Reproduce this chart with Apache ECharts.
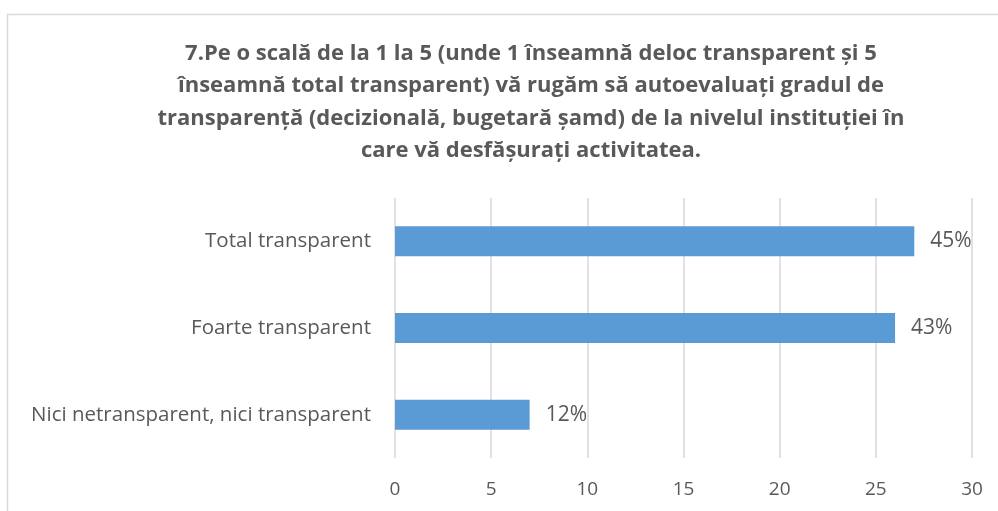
<!DOCTYPE html>
<html>
<head>
<meta charset="utf-8">
<script src="https://cdn.jsdelivr.net/npm/echarts@6/dist/echarts.min.js"></script>
<style>
  html, body { margin: 0; padding: 0; background: #fff; }
  #chart { width: 998px; height: 511px; }
</style>
</head>
<body>
<div id="chart"></div>
<script>
// categories, bottom to top as drawn
const categories = ["Nici netransparent, nici transparent", "Foarte transparent", "Total transparent"];
const counts = [7, 26, 27];
const xTicks = { min: 0, max: 30, interval: 5 };
const titleText =
  "7.Pe o scală de la 1 la 5 (unde 1 înseamnă deloc transparent și 5\n" +
  "înseamnă total transparent) vă rugăm să autoevaluați gradul de\n" +
  "transparență (decizională, bugetară șamd) de la nivelul instituției în\n" +
  "care vă desfășurați activitatea.";

const total = counts.reduce((a, b) => a + b, 0);
const font = "Open Sans";
const textColor = "#595959";

const chart = echarts.init(document.getElementById("chart"));
chart.setOption({
  animation: false,
  textStyle: { fontFamily: font },
  graphic: [
    {
      type: "rect",
      shape: { x: 7.5, y: 14.5, width: 1100, height: 600 },
      style: { fill: "none", stroke: "#d9d9d9", lineWidth: 1.5 },
      silent: true,
    },
  ],
  title: {
    text: titleText,
    left: 531,
    top: 37,
    padding: 0,
    textAlign: "center",
    textStyle: {
      fontFamily: font,
      fontWeight: "bold",
      fontSize: 22,
      lineHeight: 32.5,
      color: textColor,
    },
  },
  grid: { left: 395, right: 26, top: 198, bottom: 53 },
  xAxis: {
    type: "value",
    min: xTicks.min,
    max: xTicks.max,
    interval: xTicks.interval,
    axisLine: { show: false },
    axisTick: { show: false },
    axisLabel: { color: textColor, fontSize: 19, margin: 22, fontFamily: font },
    splitLine: { lineStyle: { color: "#d9d9d9", width: 1.5 } },
  },
  yAxis: {
    type: "category",
    data: categories,
    axisLine: { show: false },
    axisTick: { show: false },
    axisLabel: { color: textColor, fontSize: 20.5, margin: 24, fontFamily: font },
  },
  series: [
    {
      type: "bar",
      data: counts,
      barWidth: 30,
      itemStyle: { color: "#5b9bd5" },
      label: {
        show: true,
        position: "right",
        distance: 16,
        color: textColor,
        fontSize: 21,
        fontFamily: font,
        formatter: (p) => Math.round((p.value / total) * 100) + "%",
      },
    },
  ],
});
</script>
</body>
</html>
